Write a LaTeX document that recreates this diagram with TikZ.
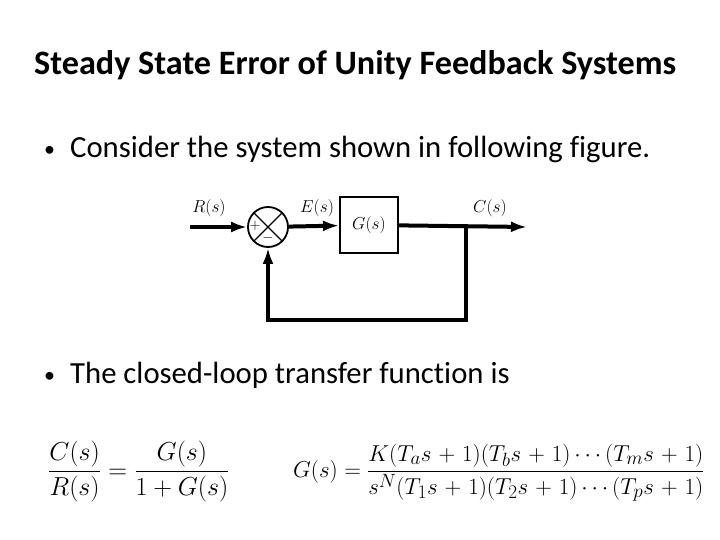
\documentclass[tikz,border=0pt]{standalone}
\usepackage{amsmath}
\usepackage{graphicx}
\usepackage{fontspec}
\setmainfont[Ligatures=NoCommon]{Carlito}
\usetikzlibrary{arrows.meta, positioning}
\tikzstyle{sumpoint} = [circle, draw = black, line width=1.8pt, minimum size=40pt, inner sep=0pt]
\tikzstyle{block} = [rectangle, draw = black, line width=2pt, minimum width=58pt, minimum height=56pt, font=\fontsize{16}{19}\selectfont]
\tikzstyle{signal} = [line width=4pt, -{Latex[length=16pt,width=11pt]}]
\tikzstyle{siglabel} = [font=\fontsize{16}{19}\selectfont, anchor=base]
\tikzstyle{slidetext} = [anchor=base west, inner sep=0pt, font=\fontsize{30.7}{36}\selectfont]
\newcommand{\slidebullet}{\makebox[26pt][l]{\raisebox{1pt}{\fontsize{22}{26}\selectfont\textbullet}}}
\newcommand{\pl}{\mkern1.5mu+\mkern1.5mu}

\begin{document}
\begin{tikzpicture}[x=1pt, y=-1pt]
	\useasboundingbox (0,0) rectangle (720,540);

	% Slide texts - - - - - - - - - - - - - - - - - - - - - - - - - - - - - - -
	\node(title) [slidetext, font=\fontsize{34.2}{40}\selectfont\bfseries] at (34,75)
		{Steady State Error of Unity Feedback Systems};
	\node(consider) [slidetext] at (44,158)
		{\slidebullet Consider the system shown in following figure.};
	\node(closed) [slidetext] at (44,383)
		{\slidebullet The closed-loop transfer function is};

	% Block diagram - - - - - - - - - - - - - - - - - - - - - - - - - - - - - -
	\node(sum) [sumpoint] at (268,227) {};
	\draw[line width=1.2pt] (sum.north west) -- (sum.south east);
	\draw[line width=1.2pt] (sum.north east) -- (sum.south west);
	\node(plus) [font=\fontsize{15}{17}\selectfont, inner sep=0pt] at (255,226) {$+$};
	\node(minus) [font=\fontsize{15}{17}\selectfont, inner sep=0pt] at (268,238) {$-$};

	\node(plant) [block] at (369,225) {$G(s)$};

	\coordinate(rin) at (190,227);
	\coordinate(cout) at (527,227);
	\coordinate(tap) at (466,227);
	\coordinate(tapdown) at (466,320);

	% Signal labels
	\node(rlabel) [siglabel] at (209,213) {$R(s)$};
	\node(elabel) [siglabel] at (317,213) {$E(s)$};
	\node(clabel) [siglabel] at (490,213) {$C(s)$};

	% Signal arrows - - - - - - - - - - - - - - - - - - - - - - - - - - - - - -
	\draw[signal](rin)--(sum);
	\draw[signal](sum)--(plant);
	\draw[signal](plant)--(cout);
	\draw[signal](tap)--(tapdown)-|(sum);

	% Equations - - - - - - - - - - - - - - - - - - - - - - - - - - - - - - - -
	\node(closedtf) [anchor=base west, inner sep=0pt, font=\fontsize{24.88}{30}\selectfont] at (48,478)
		{\scalebox{1.045}{$\dfrac{C(s)}{R(s)} = \dfrac{G(s)}{1 + G(s)}$}};
	\node(opentf) [anchor=base west, inner sep=0pt, font=\fontsize{24.88}{30}\selectfont] at (293,477)
		{\scalebox{0.925}{$G(s) = \dfrac{K(T_a s \pl 1)(T_b s \pl 1)\cdots(T_m s \pl 1)}{s^N(T_1 s \pl 1)(T_2 s \pl 1)\cdots(T_p s \pl 1)}$}};

\end{tikzpicture}
\end{document}
